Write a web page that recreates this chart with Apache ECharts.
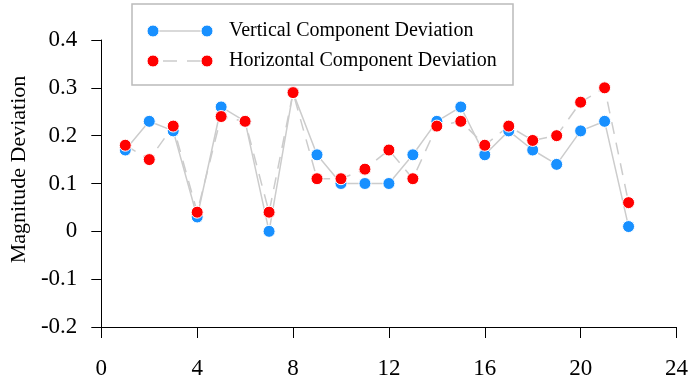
<!DOCTYPE html>
<html>
<head>
<meta charset="utf-8">
<script src="https://cdn.jsdelivr.net/npm/echarts@6/dist/echarts.min.js"></script>
<style>
  html, body { margin: 0; padding: 0; background: #fff; }
  #chart { width: 691px; height: 385px; }
</style>
</head>
<body>
<div id="chart"></div>
<script>
// sample index (x) for both series
const steps = [1, 2, 3, 4, 5, 6, 7, 8, 9, 10, 11, 12, 13, 14, 15, 16, 17, 18, 19, 20, 21, 22];
const verticalDev = [0.17, 0.23, 0.21, 0.03, 0.26, 0.23, 0.00, 0.29, 0.16, 0.10, 0.10,
  0.10, 0.16, 0.23, 0.26, 0.16, 0.21, 0.17, 0.14, 0.21, 0.23, 0.01];
const horizontalDev = [0.18, 0.15, 0.22, 0.04, 0.24, 0.23, 0.04, 0.29, 0.11, 0.11, 0.13,
  0.17, 0.11, 0.22, 0.23, 0.18, 0.22, 0.19, 0.20, 0.27, 0.30, 0.06];
const seriesNames = ['Vertical Component Deviation', 'Horizontal Component Deviation'];
const seriesColors = ['#1890ff', '#ff0000'];
const yTicks = [-0.2, -0.1, 0, 0.1, 0.2, 0.3, 0.4];
const xTicks = [0, 4, 8, 12, 16, 20, 24];

const FONT = '"Liberation Serif", "Times New Roman", serif';
const lineGray = '#cccccc';

const chart = echarts.init(document.getElementById('chart'));

function pairs(ys) {
  return steps.map((x, i) => [x, ys[i]]);
}

function makeSeries(name, ys, color, dashed) {
  return {
    name: name,
    type: 'line',
    data: pairs(ys),
    symbol: 'circle',
    symbolSize: 12,
    showAllSymbol: true,
    itemStyle: { color: color, borderColor: '#fff', borderWidth: 1 },
    lineStyle: { color: lineGray, width: 1.5, type: dashed ? [12, 9] : 'solid' },
    emphasis: { disabled: true },
    animation: false
  };
}

// legend drawn by hand: dot - line - dot, like the original
function legendRow(y, color, dashed, text) {
  return [
    {
      type: 'line', z: 101,
      shape: { x1: 153, y1: y, x2: 207, y2: y },
      style: { stroke: lineGray, lineWidth: 1.5, lineDash: dashed ? [14, 10] : null, lineDashOffset: dashed ? -10 : 0 }
    },
    { type: 'circle', z: 102, shape: { cx: 153, cy: y, r: 6 }, style: { fill: color, stroke: '#fff', lineWidth: 1 } },
    { type: 'circle', z: 102, shape: { cx: 207, cy: y, r: 6 }, style: { fill: color, stroke: '#fff', lineWidth: 1 } },
    {
      type: 'text', z: 102,
      x: 229, y: y,
      style: { text: text, font: '20px ' + FONT, fill: '#000', verticalAlign: 'middle' }
    }
  ];
}

const tickFont = { color: '#000', fontFamily: FONT, fontSize: 23 };

chart.setOption({
  backgroundColor: '#fff',
  animation: false,
  grid: { left: 100, right: 12, top: 40, bottom: 58 },
  xAxis: {
    type: 'value',
    min: xTicks[0],
    max: xTicks[xTicks.length - 1],
    interval: 4,
    axisLine: { show: true, onZero: false, lineStyle: { color: '#000', width: 1 } },
    axisTick: { show: true, length: 11, lineStyle: { color: '#000', width: 1 } },
    axisLabel: Object.assign({ margin: 30 }, tickFont),
    splitLine: { show: false }
  },
  yAxis: {
    type: 'value',
    min: yTicks[0],
    max: yTicks[yTicks.length - 1],
    interval: 0.1,
    name: 'Magnitude Deviation',
    nameLocation: 'middle',
    nameGap: 63,
    nameTextStyle: { color: '#000', fontFamily: FONT, fontSize: 22, padding: [0, 0, 0, 28] },
    axisLine: { show: true, lineStyle: { color: '#000', width: 1 } },
    axisTick: { show: true, length: 10, lineStyle: { color: '#000', width: 1 } },
    axisLabel: Object.assign({
      margin: 24,
      formatter: v => String(Math.round(v * 10) / 10)
    }, tickFont),
    splitLine: { show: false }
  },
  series: [
    makeSeries(seriesNames[0], verticalDev, seriesColors[0], false),
    makeSeries(seriesNames[1], horizontalDev, seriesColors[1], true)
  ],
  graphic: [
    {
      type: 'rect', z: 100,
      shape: { x: 132, y: 4, width: 381, height: 81 },
      style: { fill: '#fff', stroke: '#bbbbbb', lineWidth: 1.5 }
    }
  ].concat(legendRow(31, seriesColors[0], false, seriesNames[0]))
   .concat(legendRow(61, seriesColors[1], true, seriesNames[1]))
});
</script>
</body>
</html>
